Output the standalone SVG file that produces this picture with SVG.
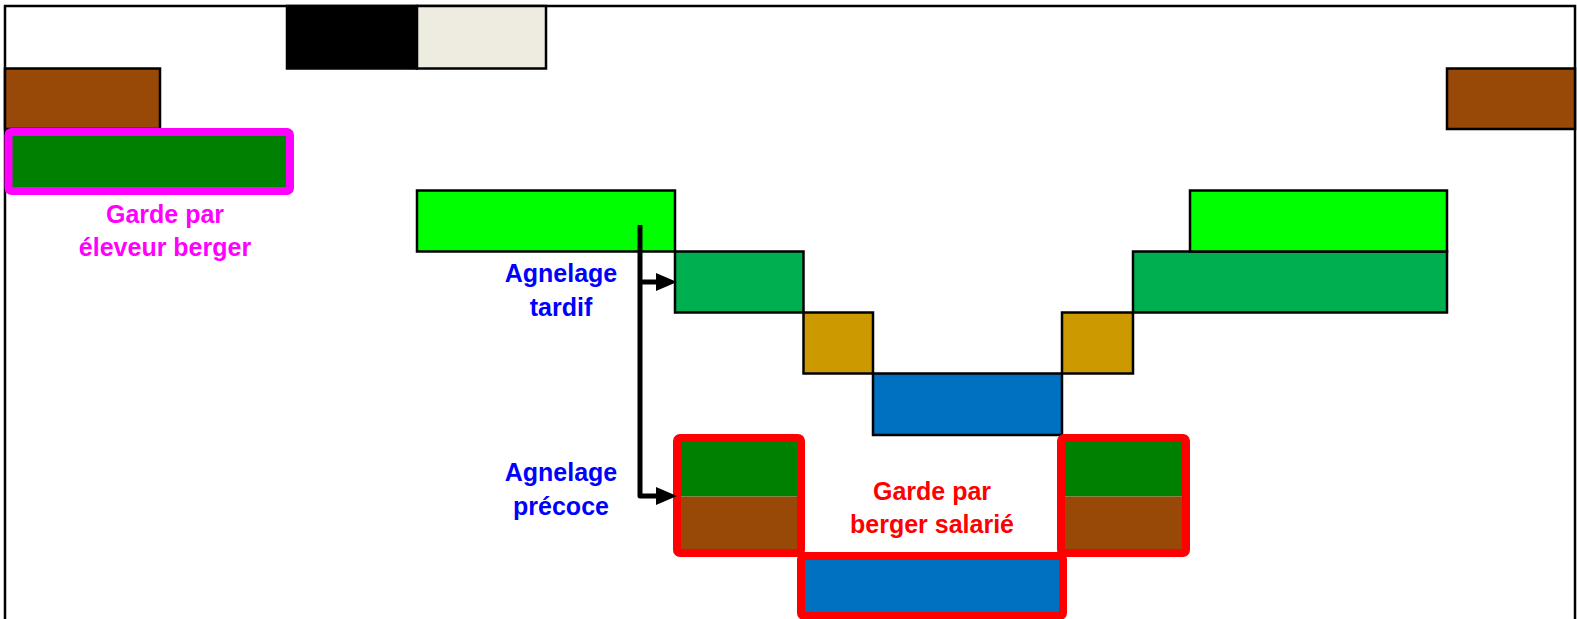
<svg xmlns="http://www.w3.org/2000/svg" width="1577" height="619" viewBox="0 0 1577 619">
<style>
.box{stroke:#000;stroke-width:2.5}
.red{stroke:#FF0000;stroke-width:8;stroke-linejoin:round}
.lbl{font-family:"Liberation Sans",Arial,sans-serif;font-weight:bold;font-size:25px;text-anchor:middle}
</style>
<rect width="1577" height="619" fill="#fff"/>
<path d="M5,619 V6 H1575 V619" fill="none" stroke="#000" stroke-width="2.5"/>
<g id="n-black"><rect class="box" x="287" y="6" width="130" height="62.5" fill="#000"/></g>
<g id="n-beige"><rect class="box" x="417" y="6" width="129" height="62.5" fill="#EEECE1"/></g>
<g id="n-brown-l"><rect class="box" x="5" y="68.5" width="155" height="60.5" fill="#984807"/></g>
<g id="n-brown-r"><rect class="box" x="1447" y="68.5" width="128" height="60.5" fill="#984807"/></g>
<g id="n-eleveur"><rect x="8.5" y="132" width="281.5" height="59" rx="3" fill="#008000" stroke="#FF00FF" stroke-width="8"/>
<text class="lbl" x="165" y="223" fill="#FF00FF">Garde par</text>
<text class="lbl" x="165" y="256" fill="#FF00FF">éleveur berger</text></g>
<g id="n-lg-l"><rect class="box" x="417" y="190.5" width="258" height="61" fill="#00FF00"/></g>
<g id="n-mg-l"><rect class="box" x="675" y="251.5" width="128.5" height="61" fill="#00B050"/></g>
<g id="n-gold-l"><rect class="box" x="803.5" y="312.5" width="69.5" height="61" fill="#CC9900"/></g>
<g id="n-blue-top"><rect class="box" x="873" y="373.5" width="189" height="61.5" fill="#0070C0"/></g>
<g id="n-gold-r"><rect class="box" x="1062" y="312.5" width="71" height="61" fill="#CC9900"/></g>
<g id="n-mg-r"><rect class="box" x="1133" y="251.5" width="314" height="61" fill="#00B050"/></g>
<g id="n-lg-r"><rect class="box" x="1190" y="190.5" width="257" height="61" fill="#00FF00"/></g>
<g id="n-blue-bottom"><rect class="red" x="801" y="556" width="262" height="60" rx="3" fill="#0070C0"/></g>
<g id="n-box-l"><rect x="677" y="438" width="124" height="58.5" fill="#008000"/><rect x="677" y="496.5" width="124" height="56.5" fill="#984807"/><rect class="red" x="677" y="438" width="124" height="115" rx="3" fill="none"/></g>
<g id="n-box-r"><rect x="1061" y="438" width="125" height="58.5" fill="#008000"/><rect x="1061" y="496.5" width="125" height="56.5" fill="#984807"/><rect class="red" x="1061" y="438" width="125" height="115" rx="3" fill="none"/></g>
<g id="n-salarie"><text class="lbl" x="932" y="500" fill="#FF0000">Garde par</text>
<text class="lbl" x="932" y="533" fill="#FF0000">berger salarié</text></g>
<g id="n-tardif"><text class="lbl" x="561" y="282" fill="#0000FF">Agnelage</text>
<text class="lbl" x="561" y="316" fill="#0000FF">tardif</text></g>
<g id="n-precoce"><text class="lbl" x="561" y="481" fill="#0000FF">Agnelage</text>
<text class="lbl" x="561" y="515" fill="#0000FF">précoce</text></g>
<g id="connectors">
<path d="M640,225 V496 H658 M640,282 H658" fill="none" stroke="#000" stroke-width="5" stroke-linejoin="round"/>
<polygon points="656,273 677,282 656,291" fill="#000"/>
<polygon points="656,487 677,496 656,505" fill="#000"/>
</g>
</svg>
